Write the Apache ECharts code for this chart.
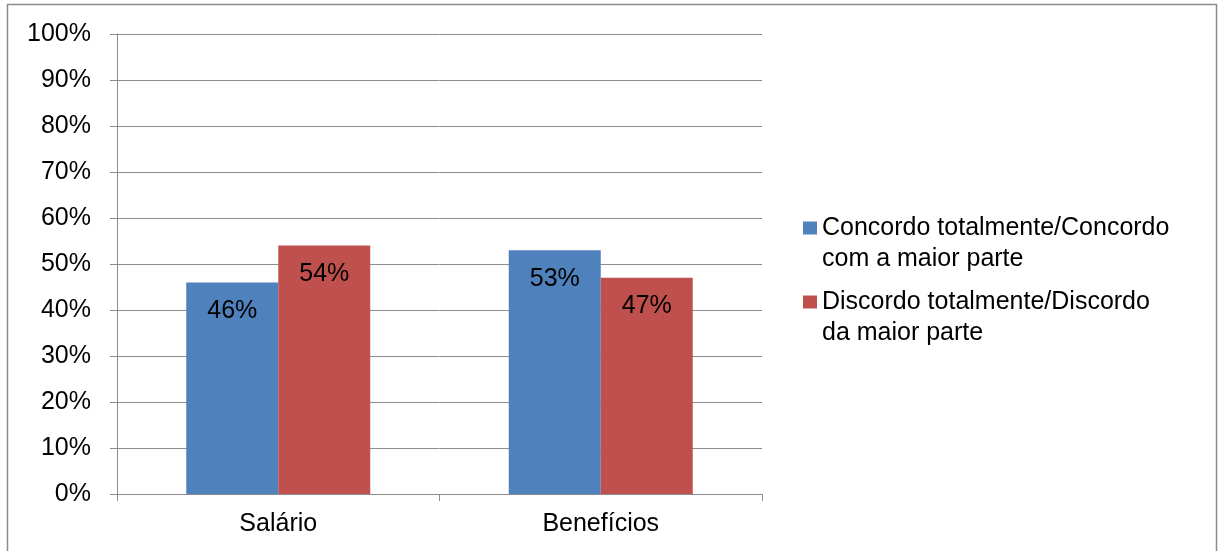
<!DOCTYPE html>
<html>
<head>
<meta charset="utf-8">
<script src="https://cdn.jsdelivr.net/npm/echarts@6/dist/echarts.min.js"></script>
<style>
  html, body { margin: 0; padding: 0; background: #ffffff; }
  #chart { width: 1218px; height: 551px; }
</style>
</head>
<body>
<div id="chart"></div>
<script>
// Categories and series values (percent)
const categories = ['Salário', 'Benefícios'];
const seriesNames = [
  'Concordo totalmente/Concordo\ncom a maior parte',
  'Discordo totalmente/Discordo\nda maior parte'
];
const concordo = [46, 53];
const discordo = [54, 47];
const seriesColors = ['#4F81BD', '#C0504D'];

const FONT = '"Liberation Sans", Arial, sans-serif';
const FONT_SIZE = 25;
const GRID_GRAY = '#8c8c8c';

const chart = echarts.init(document.getElementById('chart'), null, { renderer: 'canvas' });

const labelStyle = {
  show: true,
  position: 'insideTop',
  distance: 16,
  formatter: '{c}%',
  color: '#000',
  fontSize: FONT_SIZE,
  fontFamily: FONT
};

chart.setOption({
  animation: false,
  backgroundColor: '#ffffff',
  textStyle: { fontFamily: FONT },
  graphic: [{
    type: 'rect',
    shape: { x: 7.5, y: 4.5, width: 1209, height: 560 },
    style: { fill: 'none', stroke: '#8a8a8a', lineWidth: 1.5 },
    silent: true,
    z: -10
  }],
  grid: { left: 117, right: 456, top: 34, bottom: 57, containLabel: false },
  legend: {
    orient: 'vertical',
    left: 803,
    top: 181.5,
    padding: 0,
    itemGap: -19,
    itemWidth: 14,
    itemHeight: 13,
    icon: 'rect',
    selectedMode: false,
    // a blank leading line keeps the swatch level with the first line of text
    formatter: name => '\n' + name,
    textStyle: {
      color: '#000',
      fontSize: FONT_SIZE,
      lineHeight: 31,
      fontFamily: FONT
    },
    data: seriesNames
  },
  xAxis: {
    type: 'category',
    data: categories,
    boundaryGap: true,
    axisLine: { show: true, lineStyle: { color: GRID_GRAY, width: 1 } },
    axisTick: { show: true, length: 7, alignWithLabel: false, lineStyle: { color: GRID_GRAY } },
    axisLabel: { color: '#000', fontSize: FONT_SIZE, fontFamily: FONT, margin: 18 },
    splitLine: { show: false }
  },
  yAxis: {
    type: 'value',
    min: 0,
    max: 100,
    interval: 10,
    axisLine: { show: true, lineStyle: { color: GRID_GRAY, width: 1 } },
    axisTick: { show: true, length: 7, lineStyle: { color: GRID_GRAY } },
    axisLabel: { color: '#000', fontSize: FONT_SIZE, fontFamily: FONT, margin: 26, formatter: '{value}%' },
    splitLine: { show: true, lineStyle: { color: GRID_GRAY, width: 1 } }
  },
  series: [
    {
      name: seriesNames[0],
      type: 'bar',
      data: concordo,
      barWidth: 92,
      barGap: '0%',
      itemStyle: { color: seriesColors[0] },
      label: labelStyle
    },
    {
      name: seriesNames[1],
      type: 'bar',
      data: discordo,
      barWidth: 92,
      barGap: '0%',
      itemStyle: { color: seriesColors[1] },
      label: labelStyle
    }
  ]
});
</script>
</body>
</html>
